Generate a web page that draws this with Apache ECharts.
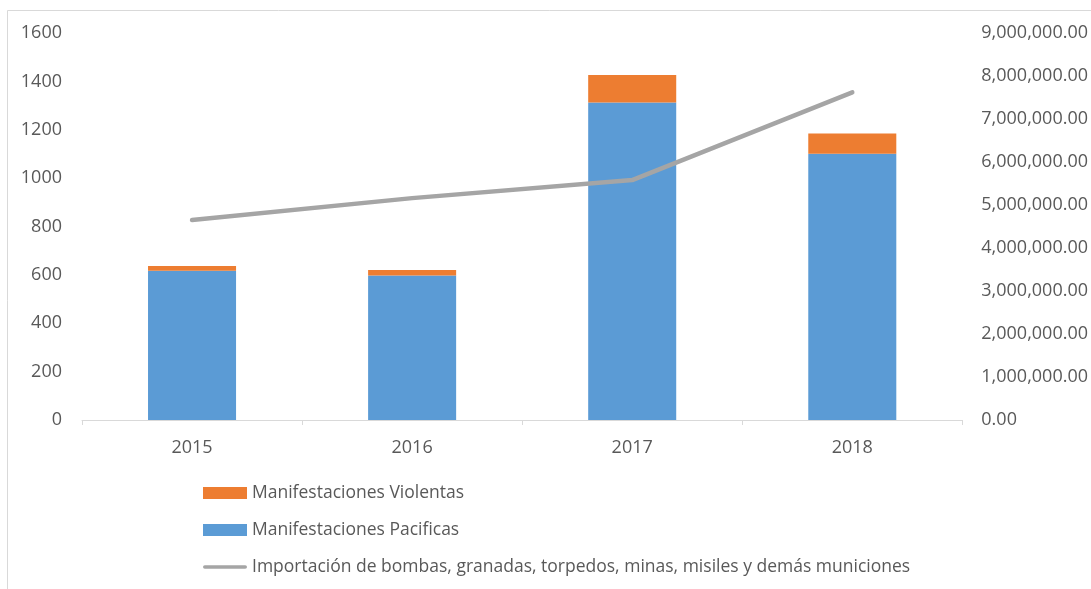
<!DOCTYPE html>
<html>
<head>
<meta charset="utf-8">
<script src="https://cdn.jsdelivr.net/npm/echarts@6/dist/echarts.min.js"></script>
<style>
html,body{margin:0;padding:0;background:#fff;}
#chart{width:1091px;height:589px;}
</style>
</head>
<body>
<div id="chart"></div>
<script>
var categories = ['2015', '2016', '2017', '2018'];
var pacificas = [617, 597, 1313, 1101];
var violentas = [20, 23, 113, 84];
var importacion = [4650000, 5160000, 5580000, 7620000];
var leftTicks = {min: 0, max: 1600, interval: 200};
var rightTicks = {min: 0, max: 9000000, interval: 1000000};
var seriesNames = ['Manifestaciones Violentas', 'Manifestaciones Pacificas', 'Importación de bombas, granadas, torpedos, minas, misiles y demás municiones'];

var chart = echarts.init(document.getElementById('chart'), null, {renderer: 'canvas'});
var font = '"Open Sans", "Noto Sans", sans-serif';
var textColor = '#595959';

function fmtMoney(v) {
  var s = Math.round(v).toString().replace(/\B(?=(\d{3})+(?!\d))/g, ',');
  return s + '.00';
}

chart.setOption({
  animation: false,
  backgroundColor: '#ffffff',
  textStyle: {fontFamily: font},
  graphic: [{
    type: 'rect',
    shape: {x: 7.5, y: 10.5, width: 1200, height: 700},
    style: {fill: 'none', stroke: '#d9d9d9', lineWidth: 1},
    silent: true,
    z: -10
  }],
  grid: {left: 82, right: 128, top: 33, bottom: 169, containLabel: false},
  legend: {
    orient: 'vertical',
    left: 198,
    top: 478,
    itemWidth: 44,
    itemHeight: 12,
    itemGap: 17,
    symbolKeepAspect: true,
    data: [
      {name: seriesNames[0], icon: 'rect'},
      {name: seriesNames[1], icon: 'rect'},
      {name: seriesNames[2], icon: 'path://M2,0 L46,0 A2,2 0 0 1 46,4 L2,4 A2,2 0 0 1 2,0 Z'}
    ],
    textStyle: {color: textColor, fontSize: 17.5, fontFamily: font, lineHeight: 20}
  },
  xAxis: {
    type: 'category',
    data: categories,
    axisLine: {lineStyle: {color: '#d9d9d9', width: 1}},
    axisTick: {show: true, length: 5, lineStyle: {color: '#d9d9d9'}},
    axisLabel: {color: textColor, fontSize: 18, margin: 19, fontFamily: font}
  },
  yAxis: [{
    type: 'value',
    min: leftTicks.min, max: leftTicks.max, interval: leftTicks.interval,
    axisLine: {show: false},
    axisTick: {show: false},
    splitLine: {show: false},
    axisLabel: {color: textColor, fontSize: 18, margin: 20, fontFamily: font, formatter: function (v) { return String(v); }}
  }, {
    type: 'value',
    min: rightTicks.min, max: rightTicks.max, interval: rightTicks.interval,
    position: 'right',
    axisLine: {show: false},
    axisTick: {show: false},
    splitLine: {show: false},
    axisLabel: {color: textColor, fontSize: 18, margin: 19, fontFamily: font, formatter: fmtMoney}
  }],
  series: [{
    name: seriesNames[1],
    type: 'bar',
    stack: 'm',
    barWidth: '40%',
    data: pacificas,
    itemStyle: {color: '#5b9bd5'}
  }, {
    name: seriesNames[0],
    type: 'bar',
    stack: 'm',
    barWidth: '40%',
    data: violentas,
    itemStyle: {color: '#ed7d31'}
  }, {
    name: seriesNames[2],
    type: 'line',
    yAxisIndex: 1,
    data: importacion,
    symbol: 'none',
    lineStyle: {color: '#a5a5a5', width: 4.5, cap: 'round', join: 'round'},
    itemStyle: {color: '#a5a5a5'},
    z: 5
  }]
});
</script>
</body>
</html>
